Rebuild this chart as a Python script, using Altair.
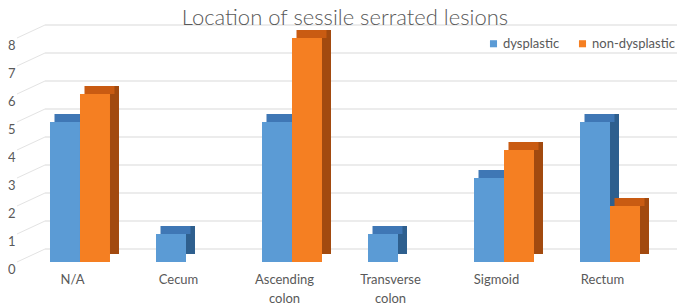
import json
import altair as alt
import pandas as pd

categories = ["N/A", "Cecum", "Ascending colon", "Transverse colon", "Sigmoid", "Rectum"]
series = ["dysplastic", "non-dysplastic"]
dysplastic = [5, 1, 5, 1, 3, 5]
non_dysplastic = [6, 0, 8, 0, 4, 2]
y_ticks = [0, 1, 2, 3, 4, 5, 6, 7, 8]

front_colors = ["#5B9BD5", "#F57F22"]
top_colors = ["#3F77B5", "#C95B12"]
side_colors = ["#2E5F8E", "#A24A0F"]

BAR_W = 0.283  # bar width in category units (style)

rows = []
for i, (c, d, n) in enumerate(zip(categories, dysplastic, non_dysplastic)):
    rows.append({"idx": i, "cat": c, "series": series[0], "value": d, "x0": i - BAR_W, "x1": i})
    rows.append({"idx": i, "cat": c, "series": series[1], "value": n, "x0": i, "x1": i + BAR_W})
df = pd.DataFrame(rows)
grid_df = pd.DataFrame({"v": y_ticks})

FONT = "Lato"
GREY = "#595959"

label_lists = [c.split(" ") for c in categories]
label_expr = json.dumps(label_lists) + "[datum.value]"

xscale = alt.Scale(domain=[-0.566, 5.566], nice=False, zero=False)
yscale = alt.Scale(domain=[0, 8], nice=False)

x_axis = alt.Axis(values=list(range(len(categories))), labelAngle=0, domain=False,
                  ticks=False, grid=False, labelPadding=11,
                  labelFont=FONT, labelFontSize=13, labelColor=GREY,
                  labelLineHeight=19, labelOffset=-8, labelExpr=label_expr)
y_axis = alt.Axis(values=y_ticks, domain=False, ticks=False, grid=False, labelPadding=5,
                  labelOverlap=False, labelBound=False, labelFlush=False,
                  labelOffset=7, labelFont=FONT, labelFontSize=13, labelColor=GREY)

x_enc = alt.X("x0:Q", scale=xscale, title=None, axis=x_axis)
y_enc = alt.Y("value:Q", scale=yscale, title=None, axis=y_axis)

grid = alt.Chart(grid_df).mark_rule(color="#D9D9D9", strokeWidth=1, yOffset=-13, y2Offset=-13).encode(
    y=alt.Y("v:Q", scale=yscale, title=None, axis=y_axis),
    x=alt.value(25), x2=alt.value(660)
)
diag = alt.Chart(grid_df).mark_rule(color="#E3E3E3", strokeWidth=1, y2Offset=-13).encode(
    y=alt.Y("v:Q", scale=yscale, title=None, axis=y_axis), y2="v:Q",
    x=alt.value(-3), x2=alt.value(25)
)

color_side = alt.Color("series:N", sort=series, scale=alt.Scale(domain=series, range=side_colors), legend=None)
color_top = alt.Color("series:N", sort=series, scale=alt.Scale(domain=series, range=top_colors), legend=None)

side = alt.Chart(df).transform_filter("datum.value > 0").mark_bar(
    xOffset=9, x2Offset=9, yOffset=-8, y2Offset=-8).encode(
    x=x_enc, x2="x1:Q", y=y_enc, y2=alt.datum(0), color=color_side
)
top = alt.Chart(df).transform_filter("datum.value > 0").mark_bar(
    xOffset=4.5, x2Offset=4.5, yOffset=-8, y2Offset=0).encode(
    x=x_enc, x2="x1:Q", y=y_enc, y2="value:Q", color=color_top
)
front = alt.Chart(df).transform_filter("datum.value > 0").mark_bar().encode(
    x=x_enc, x2="x1:Q", y=y_enc, y2=alt.datum(0),
    color=alt.Color("series:N", sort=series,
                    scale=alt.Scale(domain=series, range=front_colors),
                    legend=alt.Legend(title=None, orient="none", direction="horizontal",
                                      legendX=467, legendY=-1, symbolType="square",
                                      symbolSize=50, symbolStrokeWidth=0,
                                      labelFont=FONT, labelFontSize=13, labelColor=GREY,
                                      columnPadding=16, padding=0, labelOffset=3))
)

chart = alt.layer(grid, diag, side, top, front).resolve_scale(color="independent").properties(
    width=650, height=224,
    autosize=alt.AutoSizeParams(type="none"),
    padding={"left": 12, "top": 30, "right": 7, "bottom": 45},
    title=alt.TitleParams("Location of sessile serrated lesions", font=FONT, fontSize=22,
                          fontWeight=300, color=GREY, anchor="middle", offset=-5),
    background="white"
).configure_view(stroke=None)

chart.save("out.html", embed_options={"renderer": "svg", "actions": False})
